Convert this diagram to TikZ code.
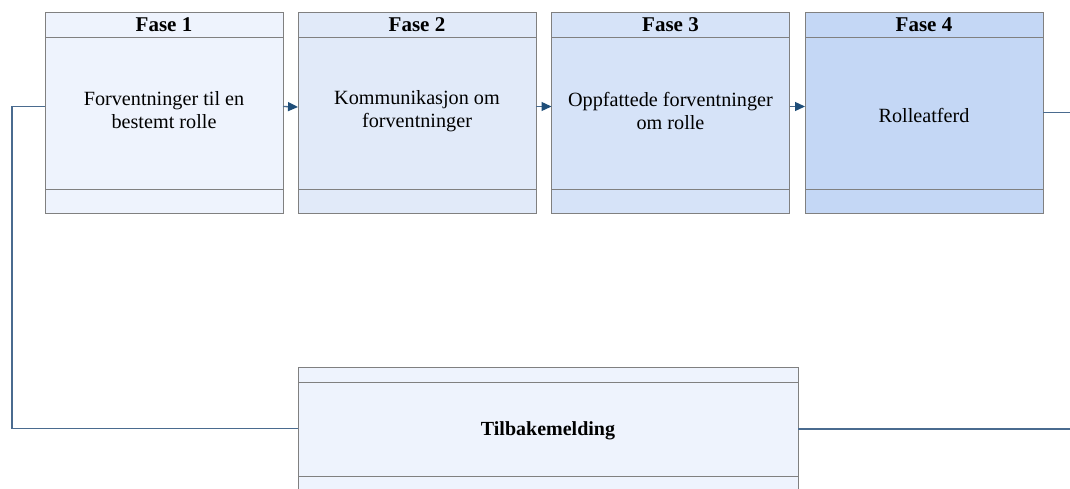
\documentclass[tikz,border=0pt]{standalone}
\usepackage{fontspec}
\setmainfont{Liberation Serif}
\newfontfamily\tnr{Liberation Serif}
\usetikzlibrary{arrows.meta}
\definecolor{fa}{HTML}{EEF3FD}
\definecolor{fb}{HTML}{E1EAF9}
\definecolor{fc}{HTML}{D6E3F8}
\definecolor{fd}{HTML}{C4D7F5}
\definecolor{edgegray}{HTML}{808080}
\definecolor{conn}{HTML}{4A6B8F}
\definecolor{tip}{HTML}{1F4E79}
\begin{document}
\begin{tikzpicture}[x=1pt,y=-1pt,
  phasebox/.style={draw=edgegray, line width=1pt, minimum width=238pt, minimum height=201pt, anchor=north west, inner sep=0pt, outer sep=0pt},
  divider/.style={draw=edgegray, line width=1pt},
  headtext/.style={font=\tnr\fontsize{21}{23}\selectfont\bfseries},
  bodytext/.style={font=\tnr\fontsize{20.2}{23}\selectfont, align=center},
  link/.style={draw=conn, line width=1.3pt},
  arr/.style={link, -{Triangle[length=10pt,width=9pt,fill=tip,color=tip]}}
]
\useasboundingbox (0,0) rectangle (1070,488);
\clip (0,0) rectangle (1070,488);

\node[phasebox, fill=fa] (b1) at (45,12) {};
\node[phasebox, fill=fb] (b2) at (298,12.5) {};
\node[phasebox, fill=fc] (b3) at (551.5,12) {};
\node[phasebox, fill=fd] (b4) at (805,12) {};
\node[phasebox, fill=fa, minimum width=500pt, minimum height=133pt] (fbk) at (298,367) {};

\foreach \b in {b1,b2,b3,b4}{
  \draw[divider] ([yshift=-25pt]\b.north west) -- ([yshift=-25pt]\b.north east);
  \draw[divider] ([yshift=24pt]\b.south west) -- ([yshift=24pt]\b.south east);
}
\draw[divider] ([yshift=-15.5pt]fbk.north west) -- ([yshift=-15.5pt]fbk.north east);
\draw[divider] ([yshift=24pt]fbk.south west) -- ([yshift=24pt]fbk.south east);

\node[headtext] (h1) at ([yshift=-12.5pt]b1.north) {Fase 1};
\node[headtext] (h2) at ([yshift=-12.5pt]b2.north) {Fase 2};
\node[headtext] (h3) at ([yshift=-12.5pt]b3.north) {Fase 3};
\node[headtext] (h4) at ([yshift=-12.5pt]b4.north) {Fase 4};

\node[bodytext] (t1) at ([yshift=2pt]b1.center) {Forventninger til en\\bestemt rolle};
\node[bodytext] (t2) at ([yshift=2pt]b2.center) {Kommunikasjon om\\forventninger};
\node[bodytext] (t3) at ([yshift=2pt]b3.center) {Oppfattede forventninger\\om rolle};
\node[bodytext] (t4) at ([yshift=-3pt]b4.center) {Rolleatferd};
\node[headtext, font=\tnr\fontsize{20}{23}\selectfont\bfseries] (t5) at (548,431) {Tilbakemelding};

\draw[arr] ([yshift=6pt]b1.east) -- ([yshift=6pt]b2.west);
\draw[arr] ([yshift=6.5pt]b2.east) -- ([yshift=6pt]b3.west);
\draw[arr] ([yshift=6pt]b3.east) -- ([yshift=6pt]b4.west);

\coordinate (rtop) at (1072,112.5);
\coordinate (rbot) at (1072,429);
\coordinate (corner) at (12,428.5);
\draw[link] (b4.east) -- (b4.east -| rtop);
\draw[link] ([yshift=6pt]b1.west) -| (corner) -- (corner -| fbk.west);
\draw[link] (rbot -| fbk.east) -- (rbot);
\end{tikzpicture}
\end{document}
